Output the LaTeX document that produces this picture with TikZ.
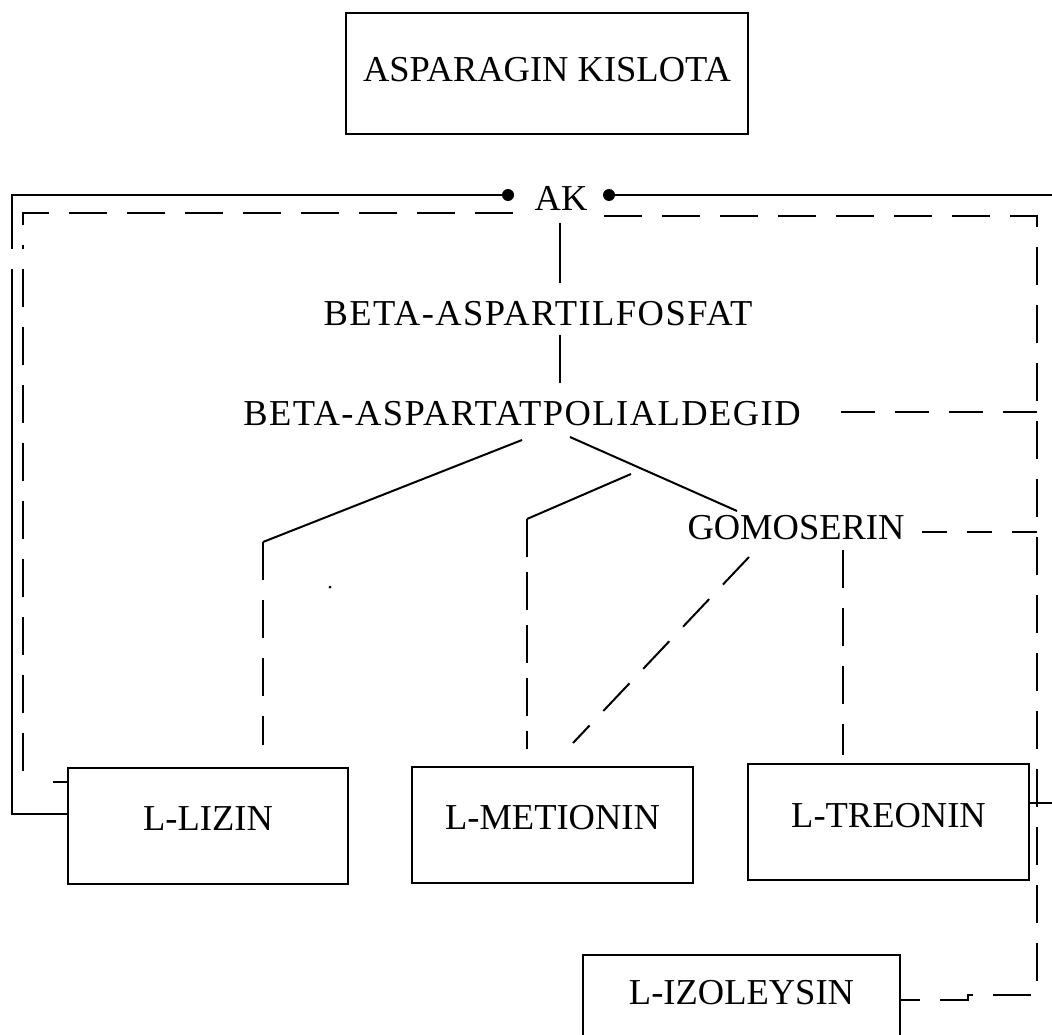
\documentclass[tikz,border=0pt]{standalone}
\usepackage{fontspec}
\setmainfont{Liberation Serif}
\newfontfamily\widefont[LetterSpace=4]{Liberation Serif}
\begin{document}
\begin{tikzpicture}[x=1pt,y=-1pt,
  lbl/.style={font=\fontsize{36.5}{40}\selectfont, inner sep=0pt, anchor=base},
  widelbl/.style={font=\widefont\fontsize{36.5}{40}\selectfont, inner sep=0pt, anchor=base},
  boxnode/.style={draw, line width=2pt, inner sep=0pt, font=\fontsize{36.5}{40}\selectfont, text height=24pt},
  sol/.style={line width=2pt},
  dsh/.style={line width=2pt, dash pattern=on 38pt off 20pt},
  dotmark/.style={circle, fill, inner sep=0pt, minimum size=12pt}]
\useasboundingbox (0,0) rectangle (1052,1035);

% boxes
\node[boxnode, minimum width=402pt, minimum height=121pt, text depth=8pt] (asp) at (547,73.5) {ASPARAGIN KISLOTA};
\node[boxnode, minimum width=280pt, minimum height=116pt, text depth=16pt] (lizin) at (208,826) {L-LIZIN};
\node[boxnode, minimum width=281pt, minimum height=116pt, text depth=16pt] (met) at (552.5,825) {L-METIONIN};
\node[boxnode, minimum width=281pt, minimum height=116pt, text depth=14pt] (tre) at (888.5,822) {L-TREONIN};
\node[boxnode, minimum width=317pt, minimum height=90pt, text depth=16pt] (izo) at (741.5,1000) {L-IZOLEYSIN};

% text nodes
\node[lbl] (ak) at (561,211) {AK};
\node[widelbl] (fos) at (538,325) {BETA-ASPARTILFOSFAT};
\node[widelbl] (ald) at (522,425) {BETA-ASPARTATPOLIALDEGID};
\node[lbl] (gom) at (796,539) {GOMOSERIN};

% feedback dots
\node[dotmark] (dl) at (508,195) {};
\node[dotmark] (dr) at (609,195) {};

% helper coordinates
\coordinate (akb) at (560,223);
\coordinate (fost) at (560,283);
\coordinate (fosb) at (560,335);
\coordinate (aldt) at (560,383);
\coordinate (ald1) at (522,440);
\coordinate (lzc) at (263,542);
\coordinate (lzt) at (263,745);
\coordinate (ald2) at (570,437);
\coordinate (gomt) at (737,511);
\coordinate (m1) at (631,474);
\coordinate (mc) at (527,519);
\coordinate (mt) at (527,749);
\coordinate (g1) at (749,557);
\coordinate (mt2) at (573,743);
\coordinate (g2) at (843,550);
\coordinate (tt) at (843,755);
\coordinate (ald3) at (836,412);
\coordinate (r412) at (1037,412);
\coordinate (g3) at (922,532);
\coordinate (r532) at (1037,532);
\coordinate (dl2) at (513,213);
\coordinate (dr2) at (604,216);
\coordinate (gapa) at (12,249);
\coordinate (gapb) at (12,269);
\coordinate (gapc) at (23,249);
\coordinate (gapd) at (23,269);

% solid feedback loops
\draw[sol] (dl) -- (12,195) -- (gapa);
\draw[sol] (gapb) -- (12,814) -- (lizin.west |- 0,814);
\draw[sol] (dr) -- (1060,195) -- (1060,803) -- (tre.east |- 0,803);

% dashed feedback loops
\draw[dsh] (dl2) -- (23,213) -- (gapc);
\draw[dsh] (gapd) -- (23,783);
\draw[sol] (53,782) -- (lizin.west |- 0,782);
\draw[dsh] (dr2) -- (1037,216) -- (1037,995) -- (968,995) -- (968,1000) -- (izo.east |- 0,1000);
\draw[dsh, dash pattern=on 34pt off 20pt] (r412) -- (ald3);
\draw[dsh, dash pattern=on 25pt off 20pt] (r532) -- (g3);

% main pathway
\draw[sol] (akb) -- (fost);
\draw[sol] (fosb) -- (aldt);
\draw[sol] (ald1) -- (lzc);
\draw[dsh] (lzc) -- (lzt);
\draw[sol] (ald2) -- (gomt);
\draw[sol] (m1) -- (mc);
\draw[dsh, dash pattern=on 38pt off 15pt] (mc) -- (mt);
\draw[dsh] (g1) -- (mt2);
\draw[dsh] (g2) -- (tt);
\fill (330,587) circle (1.5pt);
\end{tikzpicture}
\end{document}
